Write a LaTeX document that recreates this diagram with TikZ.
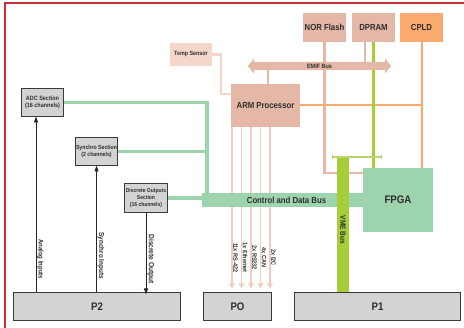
\documentclass[tikz,border=0pt]{standalone}
\usepackage{fontspec}
\setmainfont[FakeStretch=0.88]{Liberation Sans}
\usetikzlibrary{calc,arrows.meta}
\definecolor{salmon}{HTML}{E4B7A6}
\definecolor{lightsalmon}{HTML}{F4D7CA}
\definecolor{poline}{HTML}{F0CDBE}
\definecolor{cpldor}{HTML}{FAAA6E}
\definecolor{mint}{HTML}{9DD4AE}
\definecolor{vmegreen}{HTML}{A6CE39}
\definecolor{tbarc}{HTML}{B8D86C}
\definecolor{boxgray}{HTML}{D3D3D3}
\definecolor{boxline}{HTML}{3A3A3A}
\definecolor{txt}{HTML}{2E2E2E}
\definecolor{framec}{HTML}{C4303A}
\pgfdeclarelayer{bgfill}
\pgfdeclarelayer{bg}
\pgfsetlayers{bgfill,bg,main}
\begin{document}
\begin{tikzpicture}[x=1pt,y=-1pt,
  every node/.style={text=txt, inner sep=0pt, outer sep=0pt},
  bfs/.style 2 args={font=\bfseries\fontsize{#1}{#2}\selectfont},
  pinkbox/.style={fill=salmon, minimum width=43, minimum height=29, bfs={8.8}{9}},
  graybox/.style={fill=boxgray, draw=boxline, line width=1.2pt, align=center},
  pbox/.style={graybox, minimum height=28, bfs={11}{11}},
  pinkline/.style={draw=salmon, line width=2.2pt},
  lightline/.style={draw=lightsalmon, line width=2.5pt},
  orline/.style={draw=cpldor, line width=2pt},
  grline/.style={draw=vmegreen, line width=2.4pt},
  mintline/.style={draw=mint, line width=3.2pt},
  poarrow/.style={draw=poline, line width=1.4pt, shorten >=4pt, -{Triangle[width=5.5pt,length=5pt]}},
  blk/.style={draw=black!85, line width=0.8pt, -{Triangle[width=4pt,length=6pt]}},
  rlabel/.style={rotate=-90, anchor=south, inner sep=1.2pt}
]
\useasboundingbox (0,0) rectangle (464,328);
\begin{pgfonlayer}{bgfill}
\fill[white] (0,0) rectangle (464,328);
\end{pgfonlayer}
\draw[framec, line width=1.5pt] (5,328) -- (5,3) -- (464,3);

% top row
\node[fill=lightsalmon, minimum width=42, minimum height=23, bfs={6.1}{6.1}] (temp) at (191,54.5) {Temp Sensor};
\node[pinkbox] (nor) at (324.5,27.5) {NOR Flash};
\node[pinkbox] (dpram) at (373.5,27.5) {DPRAM};
\node[pinkbox, fill=cpldor] (cpld) at (421.5,27.5) {CPLD};

% EMIF bus
\fill[salmon] (248,66) -- (254,58.5) -- (254,62) -- (385,62) -- (385,58.5) -- (391,66)
  -- (385,73.5) -- (385,70) -- (254,70) -- (254,73.5) -- cycle;
\node[minimum width=143, minimum height=8, bfs={6.2}{6.2}] (emif) at (319.5,66) {EMIF Bus};

\node[fill=salmon, minimum width=69, minimum height=43, bfs={8.8}{9}] (arm) at (265.5,105.5) {ARM Processor};
\node[fill=mint, minimum width=70, minimum height=64, bfs={11}{11}] (fpga) at (398,200) {FPGA};

% side sections
\node[graybox, minimum width=42, minimum height=28, bfs={6.2}{7.2}] (adc) at (42.5,102.5) {ADC Section\\(16 channels)};
\node[graybox, minimum width=42, minimum height=28, bfs={5.9}{7.2}] (synchro) at (96.5,151.5) {Synchro Section\\(2 channels)};
\node[graybox, minimum width=43, minimum height=29, bfs={5.7}{7.4}] (discrete) at (146,198) {Discrete Outputs\\Section\\(16 channels)};

% connectors
\coordinate (v) at (207,193);
\begin{pgfonlayer}{bg}
  \draw[lightline] (temp.east) -- ++(9,0) |- ($(arm.north west)+(0,10)$);
  \draw[pinkline] (nor.south) |- ($(fpga.north west)+(0,5)$);
  \coordinate (d1) at ($(dpram.south)+(-8.5,0)$);
  \draw[pinkline] (d1) -- (d1 |- emif.north);
  \coordinate (a1) at ($(arm.north)+(2.5,0)$);
  \draw[pinkline, line width=2.5pt] (a1) -- (a1 |- emif.south);
  \draw[orline] (arm.east) -- (arm.east -| cpld.south);
  \draw[orline] (cpld.south) -- (cpld.south |- fpga.north);
  \draw[grline] (dpram.south) -- (dpram.south |- fpga.north);
  \draw[mintline] (adc.east) -| (v);
  \draw[mintline] (synchro.east) -- (synchro.east -| v);
  \draw[mintline] (discrete.east) -- (discrete.east -| v);
\end{pgfonlayer}

% bottom connectors
\node[pbox, minimum width=167] (p2) at (97,306.5) {P2};
\node[pbox, minimum width=68] (po) at (237.5,306.5) {PO};
\node[pbox, minimum width=166] (p1) at (377.5,306.5) {P1};

\begin{pgfonlayer}{bg}
  \foreach \dx/\t in {1/11x RS-422, 10.5/1x Ethernet, 20/2x RS232, 29.5/4x CAN, 39/2x I2C} {
    \coordinate (s) at ($(arm.south west)+(\dx,0)$);
    \draw[poarrow] (s) -- node[pos=0.79, rlabel, bfs={6.3}{6.3}] {\t} (s |- po.north);
  }
\end{pgfonlayer}

\coordinate (ai) at ($(adc.south)+(-6.5,0)$);
\draw[blk] (ai |- p2.north) -- node[pos=0.19, rlabel, bfs={6.8}{6.8}] {Analog Inputs} (ai);
\draw[blk] (synchro.south |- p2.north) -- node[pos=0.29, rlabel, bfs={7.2}{7.2}] {Synchro Inputs} (synchro.south);
\draw[blk] (discrete.south) -- node[pos=0.57, rlabel, bfs={7.5}{7.5}] {Discrete Output} ([yshift=-2]discrete.south |- p2.north);

% buses
\node[fill=mint, minimum width=161, minimum height=14] (cbus) at (282.5,200) {};
\node[bfs={8.8}{9}] (cbl) at ($(cbus.center)+(4,0)$) {Control and Data Bus};
\node[fill=vmegreen, minimum width=12, minimum height=135] (vme) at (343,224.5) {};
\node[rotate=-90, bfs={7.5}{7.5}] (vmel) at ($(vme.center)+(0,5.5)$) {VME Bus};
\coordinate (tl) at ($(vme.north)+(-11,0)$);
\coordinate (tr) at ($(vme.north)+(38,0)$);
\draw[tbarc, line width=1.8pt] (tl) -- (tr);
\draw[tbarc, line width=1pt] ($(tl)+(0,-2)$) -- ($(tl)+(0,2)$);
\draw[tbarc, line width=1pt] ($(tr)+(0,-2)$) -- ($(tr)+(0,2)$);
\end{tikzpicture}
\end{document}
